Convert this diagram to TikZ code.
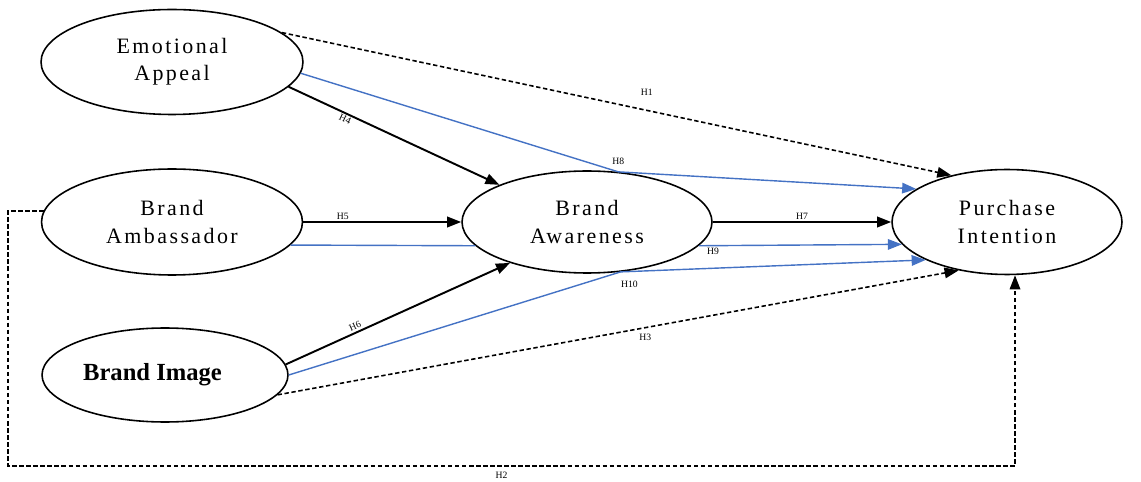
\documentclass[tikz,border=0pt]{standalone}
\usepackage{fontspec}
\setmainfont{Liberation Serif}
\newfontfamily\wideserif[LetterSpace=11]{Liberation Serif}
\usetikzlibrary{arrows.meta,shapes.geometric}
\definecolor{pathblue}{RGB}{68,114,196}
\tikzset{
construct/.style={draw,ellipse,line width=0.9pt,inner sep=0pt,align=center,font=\wideserif\fontsize{12.5}{15.5}\selectfont},
direct/.style={-{Triangle[length=8pt,width=6pt]},line width=1.1pt},
mediated/.style={pathblue,line width=0.8pt},
total/.style={dash pattern=on 2.5pt off 1.5pt,line width=0.9pt},
hyp/.style={font=\fontsize{5.5}{6}\selectfont,inner sep=1pt}
}

\begin{document}
\begin{tikzpicture}[x=0.02cm,y=-0.02cm]
\useasboundingbox (0,0) rectangle (1141,482);
%constructs
\node[construct,minimum width=5.24cm,minimum height=2.1cm] (ea) at (172,62) {Emotional\\Appeal};
\node[construct,minimum width=5.22cm,minimum height=2.12cm] (bamb) at (172,222) {Brand\\Ambassador};
\node[construct,minimum width=4.92cm,minimum height=1.88cm,font=\bfseries\fontsize{14}{16}\selectfont] (bi) at (165,375) {Brand Image\hspace{0.5cm}};
\node[construct,minimum width=5cm,minimum height=2.04cm] (ba) at (587,222) {Brand\\Awareness};
\node[construct,minimum width=4.6cm,minimum height=2.1cm] (pi) at (1007,222) {Purchase\\Intention};
%direct paths to awareness
\draw[direct] (ea.-12) -- node [hyp,sloped,below,pos=0.28] (h4) {H4} (ba.157); %H4
\draw[direct] (bamb.east) -- node [hyp,above,pos=0.25] (h5) {H5} (ba.west); %H5
\draw[direct] (bi.5) -- node [hyp,sloped,above,pos=0.32] (h6) {H6} (ba.208); %H6
\draw[direct] (ba.east) -- node [hyp,above,midway] (h7) {H7} (pi.west); %H7
%mediated paths
\draw[mediated,-{Triangle[length=8pt,width=6pt]}] (ea.-5) -- (ba.58) node [hyp,black,above=3pt] (h8) {H8} -- (pi.160); %H8
\draw[mediated] (bamb.-11) -- (ba.192);
\draw[mediated,-{Triangle[length=8pt,width=6pt]}] (ba.-12) -- node [hyp,black,below,pos=0.07] (h9) {H9} (pi.192); %H9
\draw[mediated,-{Triangle[length=8pt,width=6pt]}] (bi.east) -- (ba.-56) node [hyp,black,below=4pt,xshift=5pt] (h10) {H10} -- (pi.205); %H10
%total effects
\draw[total,-{Triangle[length=8pt,width=6pt]}] (ea.15) -- node [hyp,above=7pt,pos=0.545] (h1) {H1} (pi.140); %H1
\draw[total,-{Triangle[length=8pt,width=6pt]}] (bi.-10) -- node [hyp,below=2pt,pos=0.54] (h3) {H3} (pi.225); %H3
\coordinate (h2left) at (8,466);
\coordinate (h2right) at (1015,466);
\draw[total,-{Triangle[length=8pt,width=6pt]}] (bamb.175) -| (h2left) -- node [hyp,below=2pt,pos=0.49] (h2) {H2} (h2right) -- (h2right |- pi.south); %H2
\end{tikzpicture}
\end{document}
